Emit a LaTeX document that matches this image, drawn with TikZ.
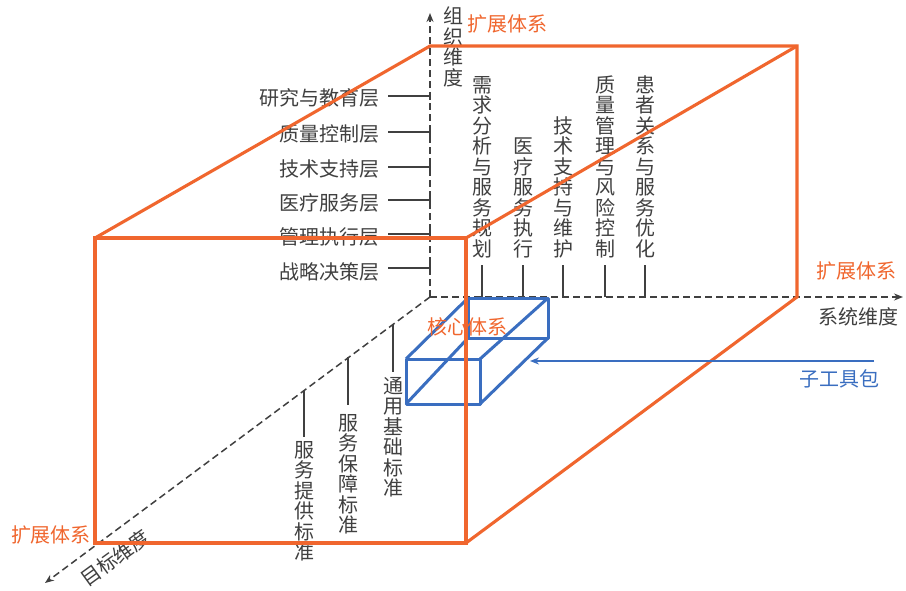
\documentclass[tikz,border=0pt]{standalone}
\usepackage{fontspec}
\setmainfont{Noto Sans CJK SC}
\usetikzlibrary{arrows.meta}
\definecolor{orng}{RGB}{240,102,46}
\definecolor{blu}{RGB}{58,110,192}
\definecolor{txt}{RGB}{64,64,64}
\tikzset{
 cube/.style={draw=orng, line width=3.1pt, line join=miter},
 box/.style={draw=blu, line width=3pt, line join=round},
 axis/.style={draw=txt, line width=1.5pt, dash pattern=on 7pt off 4pt, -{Stealth[length=9pt,width=7pt]}},
 tickline/.style={draw=txt, line width=1.4pt},
 lbl/.style={text=txt, font=\fontsize{20}{20.5}\selectfont, inner sep=0pt},
 vlbl/.style={lbl, align=center},
 olbl/.style={text=orng, font=\fontsize{20}{20.5}\selectfont, inner sep=0pt},
 blbl/.style={text=blu, font=\fontsize{20}{20.5}\selectfont, inner sep=0pt},
}
\begin{document}
\begin{tikzpicture}[x=1pt,y=-1pt]
\useasboundingbox[fill=white] (0,0) rectangle (906,591);
% axes
\coordinate (O) at (430,297);
\coordinate (Ytip) at (430,13);
\coordinate (Xtip) at (903,297);
\coordinate (Ztip) at (45,583);
\draw[axis] (O) -- (Ytip);
\draw[axis] (O) -- (Xtip);
\draw[axis] (O) -- (Ztip);
\node[vlbl, anchor=north] (ylab) at (453,7) {组\\织\\维\\度};
\node[lbl] (xlab) at (858,317) {系统维度};
\node[lbl, rotate=36] (zlab) at (115,558) {目标维度};
% layer labels
\foreach \i/\t/\ty/\ly in {1/研究与教育层/98/96, 2/质量控制层/134/132, 3/技术支持层/169/167, 4/医疗服务层/203/200, 5/管理执行层/237/234, 6/战略决策层/272/268}{
  \node[lbl, anchor=east] (L\i) at (380,\ty) {\t};
  \coordinate (La\i) at (388,\ly);
  \coordinate (Lb\i) at (430,\ly);
  \draw[tickline] (La\i) -- (Lb\i);
  \draw[tickline] ([yshift=4pt]Lb\i) -- ([yshift=-4pt]Lb\i);
}
% system labels (top)
\foreach \i/\t/\x in {1/需\\求\\分\\析\\与\\服\\务\\规\\划/482, 2/医\\疗\\服\\务\\执\\行/523, 3/技\\术\\支\\持\\与\\维\\护/563, 4/质\\量\\管\\理\\与\\风\\险\\控\\制/605, 5/患\\者\\关\\系\\与\\服\\务\\优\\化/645}{
  \node[vlbl, anchor=south] (T\i) at (\x,258) {\t};
  \coordinate (Ta\i) at (\x,265);
  \coordinate (Tb\i) at (\x,297);
  \draw[tickline] (Ta\i) -- (Tb\i);
}
% target labels (diagonal)
\foreach \i/\t/\x/\ta/\tb/\ny in {1/通\\用\\基\\础\\标\\准/393/324/372/377, 2/服\\务\\保\\障\\标\\准/348/357/405/414, 3/服\\务\\提\\供\\标\\准/304/390/437/441}{
  \node[vlbl, anchor=north] (G\i) at (\x,\ny) {\t};
  \coordinate (Ga\i) at (\x,\ta);
  \coordinate (Gb\i) at (\x,\tb);
  \draw[tickline] (Ga\i) -- (Gb\i);
}
% blue sub-toolkit box
\coordinate (F1) at (406,359); \coordinate (F2) at (480,359);
\coordinate (F3) at (480,404); \coordinate (F4) at (406,404);
\coordinate (B1) at (468,298); \coordinate (B2) at (548,298);
\coordinate (B3) at (548,338); \coordinate (B4) at (468,338);
\draw[box] (B1) -- (B2) -- (B3) -- (B4) -- cycle;
\draw[box] (F1) -- (F2) -- (F3) -- (F4) -- cycle;
\draw[box] (F1) -- (B1) (F2) -- (B2) (F3) -- (B3) (F4) -- (B4);
% orange cube
\coordinate (A) at (95,238); \coordinate (Bc) at (466,238);
\coordinate (C) at (466,543); \coordinate (D) at (95,543);
\coordinate (E) at (430,46); \coordinate (Gc) at (797,46);
\coordinate (H) at (797,297);
\draw[cube] (D) -- (A) -- (Bc) -- (C) -- cycle;
\draw[cube] (A) -- (E) -- (Gc) -- (H) -- (C);
\draw[cube] (Bc) -- (Gc);
\node[olbl] (core) at (467,327) {核心体系};
\node[olbl] (ext1) at (507,24) {扩展体系};
\node[olbl] (ext2) at (856,271) {扩展体系};
\node[olbl] (ext3) at (51,535) {扩展体系};
% sub-toolkit arrow
\coordinate (arrS) at (874,361);
\coordinate (arrE) at (530,361);
\draw[blu, line width=1.6pt, -{Stealth[length=9pt,width=7pt]}] (arrS) -- (arrE);
\node[blbl] (sub) at (839,379) {子工具包};
\end{tikzpicture}
\end{document}
